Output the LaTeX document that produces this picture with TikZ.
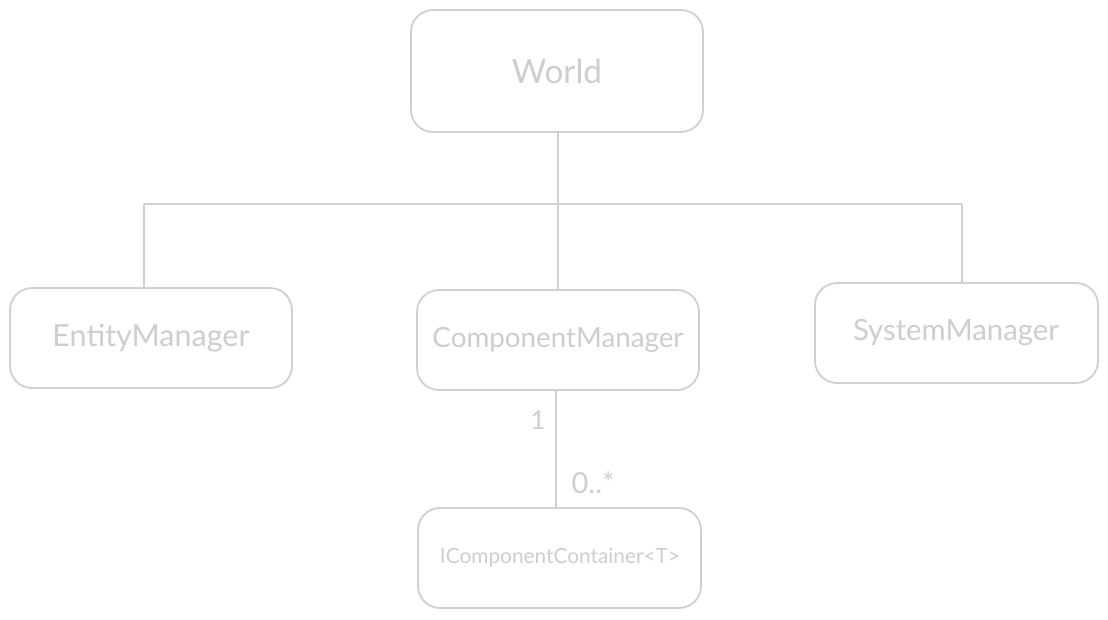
\documentclass[tikz,border=0pt]{standalone}
\usepackage{fontspec}
\setmainfont{Lato}
\definecolor{sk}{RGB}{208,208,208}
\definecolor{tx}{RGB}{206,206,206}
\begin{document}
\begin{tikzpicture}[x=1pt,y=-1pt,
  box/.style={draw=sk,line width=1.8pt,rounded corners=22pt,fill=white},
  lbl/.style={text=tx,inner sep=0pt},
  conn/.style={draw=sk,line width=1.6pt}]
\useasboundingbox[fill=white] (0,0) rectangle (1108,619);
% boxes
\draw[box] (411,10) rectangle (703,132);
\node[lbl] (world) at (557,71) {\resizebox{90pt}{!}{World}};
\draw[box] (10,288) rectangle (292,388);
\node[lbl] (em) at (151,338) {\resizebox{197pt}{!}{EntityManager}};
\draw[box] (417,290) rectangle (699,390);
\node[lbl] (cm) at (558,340) {\resizebox{251pt}{!}{ComponentManager}};
\draw[box] (815,283) rectangle (1098,383);
\node[lbl] (sm) at (956,333) {\resizebox{206pt}{!}{SystemManager}};
\draw[box] (418,508) rectangle (701,608);
\node[lbl] (icc) at (560,558) {\resizebox{240pt}{!}{IComponentContainer<T>}};
% anchors
\coordinate (wb) at (558,132);
\coordinate (j) at (558,204);
\coordinate (jl) at (144,204);
\coordinate (jr) at (962,204);
\coordinate (emt) at (144,288);
\coordinate (cmt) at (558,290);
\coordinate (smt) at (962,283);
\coordinate (cmb) at (556,390);
\coordinate (icct) at (556,508);
\draw[conn] (wb) -- (j);
\draw[conn] (jl) -- (jr);
\draw[conn] (jl) -- (emt);
\draw[conn] (j) -- (cmt);
\draw[conn] (jr) -- (smt);
\draw[conn] (cmb) -- (icct);
\node[lbl,font=\fontsize{26}{28}\selectfont] (m1) at (538,420) {1};
\node[lbl,font=\fontsize{29}{31}\selectfont] (m2) at (593,483) {0..*};
\end{tikzpicture}
\end{document}
